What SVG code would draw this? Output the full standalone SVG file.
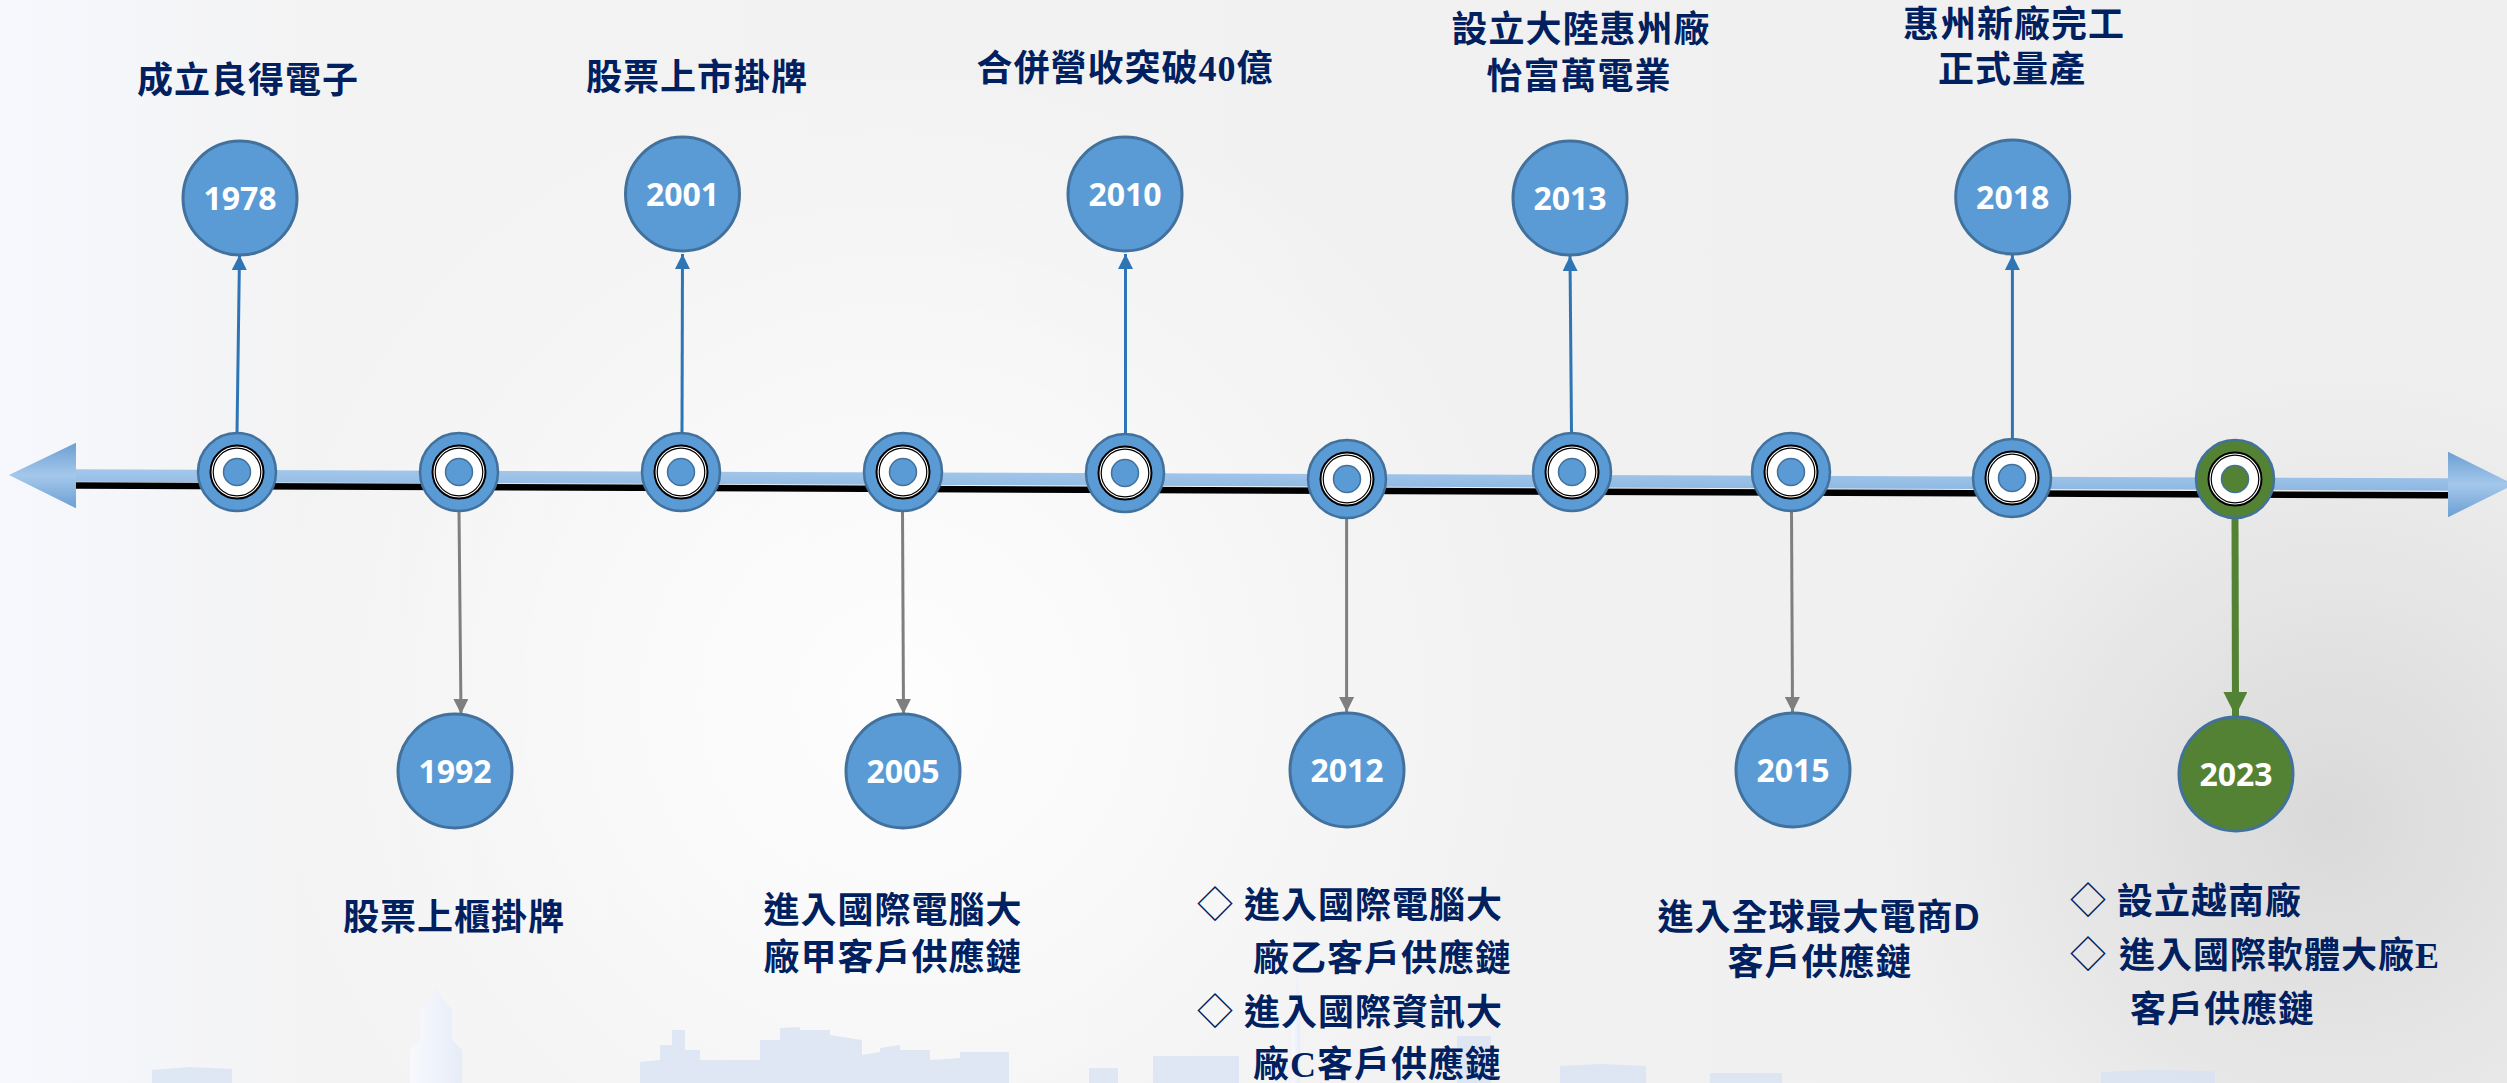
<svg xmlns="http://www.w3.org/2000/svg" xmlns:xlink="http://www.w3.org/1999/xlink" width="2507" height="1083" viewBox="0 0 2507 1083">
<style>
.yc{fill:#5B9BD5;stroke:#41719C;stroke-width:3}
.yg{fill:#548235;stroke:#41719C;stroke-width:3}
.yt{font-family:"Open Sans","Liberation Sans",sans-serif;font-weight:700;font-size:32px;fill:#fff;text-anchor:middle}
.lb{font-family:"Liberation Serif","Noto Sans CJK TC",serif;font-weight:700;font-size:36px;fill:#002060;letter-spacing:1px}
.mid{text-anchor:middle}
.dm{font-family:"Noto Sans CJK TC",sans-serif;font-weight:400}
.up{stroke:#2E75B6;stroke-width:3;fill:none;marker-end:url(#aB)}
.dn{stroke:#7F7F7F;stroke-width:3;fill:none;marker-end:url(#aG)}
.dg{stroke:#548235;stroke-width:7;fill:none;marker-end:url(#aV)}
.sk{fill:#D7E1F3;opacity:.75}
</style>
<defs>
<linearGradient id="bgL" x1="0" y1="0" x2="1" y2="0">
<stop offset="0" stop-color="#F6F8FD"/><stop offset="0.12" stop-color="#F3F3F4"/><stop offset="1" stop-color="#EFEFEF"/>
</linearGradient>
<radialGradient id="glow" cx="900" cy="700" r="650" gradientUnits="userSpaceOnUse">
<stop offset="0" stop-color="#FFFFFF" stop-opacity="0.9"/><stop offset="1" stop-color="#FFFFFF" stop-opacity="0"/>
</radialGradient>
<radialGradient id="shade" cx="2330" cy="820" r="450" gradientUnits="userSpaceOnUse">
<stop offset="0" stop-color="#D4D4D4" stop-opacity="0.8"/><stop offset="1" stop-color="#D4D4D4" stop-opacity="0"/>
</radialGradient>
<linearGradient id="tow" x1="0" y1="0" x2="1" y2="0">
<stop offset="0" stop-color="#F8F9FD"/><stop offset="1" stop-color="#E6ECF8"/>
</linearGradient>
<linearGradient id="bar" x1="0" y1="0" x2="0" y2="1">
<stop offset="0" stop-color="#A4C8EB"/><stop offset="1" stop-color="#8DB7E2"/>
</linearGradient>
<linearGradient id="head" x1="0" y1="0" x2="0" y2="1">
<stop offset="0" stop-color="#6C9FD3"/><stop offset="0.5" stop-color="#A4C8EB"/><stop offset="1" stop-color="#6C9FD3"/>
</linearGradient>
<marker id="aB" markerWidth="15" markerHeight="15" refX="15" refY="7.5" orient="auto" markerUnits="userSpaceOnUse"><path d="M0,0 L15,7.5 L0,15 z" fill="#2E75B6"/></marker>
<marker id="aG" markerWidth="15" markerHeight="15" refX="15" refY="7.5" orient="auto" markerUnits="userSpaceOnUse"><path d="M0,0 L15,7.5 L0,15 z" fill="#7F7F7F"/></marker>
<marker id="aV" markerWidth="24" markerHeight="24" refX="24" refY="12" orient="auto" markerUnits="userSpaceOnUse"><path d="M0,0 L24,12 L0,24 z" fill="#548235"/></marker>
<g id="tdot">
<circle r="39" fill="#5B9BD5" stroke="#41719C" stroke-width="2.5"/>
<circle r="26.5" fill="#fff" stroke="#000" stroke-width="2"/>
<circle r="23.8" fill="none" stroke="#000" stroke-width="1.2"/>
<circle r="13.5" fill="#5B9BD5" stroke="#41719C" stroke-width="1.5"/>
</g>
<g id="tdotg">
<circle r="39" fill="#548235" stroke="#41719C" stroke-width="2.5"/>
<circle r="26.5" fill="#fff" stroke="#000" stroke-width="2"/>
<circle r="23.8" fill="none" stroke="#000" stroke-width="1.2"/>
<circle r="13.5" fill="#548235" stroke="#41719C" stroke-width="1.5"/>
</g>
</defs>

<g id="background">
<rect width="2507" height="1083" fill="url(#bgL)"/>
<rect width="2507" height="1083" fill="url(#glow)"/>
<rect width="2507" height="1083" fill="url(#shade)"/>
<path class="sk" d="M152,1083 V1070 L190,1067 L232,1069 V1083 Z"/>
<path fill="url(#tow)" d="M410,1083 V1050 L420,1040 V1010 L432,995 L436,985 L440,995 L452,1010 V1040 L462,1050 V1083 Z"/>
<path class="sk" d="M640,1083 V1062 L660,1060 V1045 L672,1045 V1030 L685,1030 V1050 L700,1050 V1060 L760,1060 V1040 L780,1040 V1028 L800,1027 V1030 L830,1030 V1035 L862,1040 V1055 L880,1052 V1048 L900,1045 V1050 L930,1050 V1060 L960,1058 V1052 L1009,1052 V1083 Z"/>
<path class="sk" d="M1089,1083 V1068 L1118,1068 V1083 Z M1153,1083 V1056 L1239,1056 V1083 Z"/>
<path class="sk" d="M1457,1083 V1036 L1491,1036 V1083 Z M1560,1083 V1066 L1600,1064 L1646,1066 V1083 Z M1710,1083 V1073 L1782,1073 V1083 Z M2101,1083 V1072 L2150,1070 L2215,1071 V1083 Z"/>
<path fill="url(#tow)" d="M1292,1083 V1000 L1296,968 L1300,1000 V1083 Z"/>
</g>

<g id="timeline">
<line x1="76" y1="485.5" x2="2448" y2="495.3" stroke="#000" stroke-width="6.5"/>
<polygon points="76,469.3 2448,478.3 2448,490.7 76,481.7" fill="url(#bar)"/>
<polygon points="9,475 76,442.7 76,508.3" fill="url(#head)"/>
<polygon points="2448,451.7 2514,484.5 2448,517.3" fill="url(#head)"/>
</g>

<g id="connectors">
<path class="up" d="M237,433 L239.5,255"/>
<path class="up" d="M682,433 L682.5,254"/>
<path class="up" d="M1125.5,434 L1125.5,254"/>
<path class="up" d="M1571.5,433 L1570,256"/>
<path class="up" d="M2012.4,439 L2012.4,255"/>
<path class="dn" d="M459,511 L461,714"/>
<path class="dn" d="M902.5,511 L903.5,714"/>
<path class="dn" d="M1346.6,518 L1346.6,712"/>
<path class="dn" d="M1791.5,511 L1792.5,712"/>
<path class="dg" d="M2235,518 L2235.5,716"/>
</g>

<g id="timeline-dots">
<g id="dot-1978"><use href="#tdot" x="237" y="472"/></g>
<g id="dot-1992"><use href="#tdot" x="459" y="472"/></g>
<g id="dot-2001"><use href="#tdot" x="681" y="472"/></g>
<g id="dot-2005"><use href="#tdot" x="903" y="472"/></g>
<g id="dot-2010"><use href="#tdot" x="1125" y="473"/></g>
<g id="dot-2012"><use href="#tdot" x="1347" y="479"/></g>
<g id="dot-2013"><use href="#tdot" x="1572" y="472"/></g>
<g id="dot-2015"><use href="#tdot" x="1791" y="472"/></g>
<g id="dot-2018"><use href="#tdot" x="2012" y="478"/></g>
<g id="dot-2023"><use href="#tdotg" x="2235" y="479"/></g>
</g>

<g id="node-1978">
<circle class="yc" cx="240" cy="198" r="57"/>
<text class="yt" x="240" y="210">1978</text>
<text class="lb mid" x="248" y="93">成立良得電子</text>
</g>
<g id="node-2001">
<circle class="yc" cx="682.5" cy="194" r="57"/>
<text class="yt" x="682.5" y="206">2001</text>
<text class="lb mid" x="697" y="90">股票上市掛牌</text>
</g>
<g id="node-2010">
<circle class="yc" cx="1125" cy="194" r="57"/>
<text class="yt" x="1125" y="206">2010</text>
<text class="lb mid" x="1125" y="81">合併營收突破40億</text>
</g>
<g id="node-2013">
<circle class="yc" cx="1570" cy="198" r="57"/>
<text class="yt" x="1570" y="210">2013</text>
<text class="lb mid" x="1581" y="42">設立大陸惠州廠</text>
<text class="lb mid" x="1579" y="89">怡富萬電業</text>
</g>
<g id="node-2018">
<circle class="yc" cx="2012.7" cy="197" r="57"/>
<text class="yt" x="2012.7" y="209">2018</text>
<text class="lb mid" x="2014" y="37">惠州新廠完工</text>
<text class="lb mid" x="2012" y="82">正式量產</text>
</g>
<g id="node-1992">
<circle class="yc" cx="455" cy="771" r="57"/>
<text class="yt" x="455" y="783">1992</text>
<text class="lb mid" x="454" y="930">股票上櫃掛牌</text>
</g>
<g id="node-2005">
<circle class="yc" cx="903" cy="771" r="57"/>
<text class="yt" x="903" y="783">2005</text>
<text class="lb mid" x="893" y="923">進入國際電腦大</text>
<text class="lb mid" x="893" y="970">廠甲客戶供應鏈</text>
</g>
<g id="node-2012">
<circle class="yc" cx="1347" cy="770" r="57"/>
<text class="yt" x="1347" y="782">2012</text>
<text class="lb" y="918"><tspan class="dm" x="1197">◇</tspan><tspan x="1244">進入國際電腦大</tspan></text>
<text class="lb" x="1253" y="971">廠乙客戶供應鏈</text>
<text class="lb" y="1025"><tspan class="dm" x="1197">◇</tspan><tspan x="1244">進入國際資訊大</tspan></text>
<text class="lb" x="1253" y="1077">廠C客戶供應鏈</text>
</g>
<g id="node-2015">
<circle class="yc" cx="1793" cy="770" r="57"/>
<text class="yt" x="1793" y="782">2015</text>
<text class="lb mid" x="1819" y="930">進入全球最大電商<tspan font-family="Liberation Sans">D</tspan></text>
<text class="lb mid" x="1820" y="975">客戶供應鏈</text>
</g>
<g id="node-2023">
<circle class="yg" cx="2236" cy="774" r="57"/>
<text class="yt" x="2236" y="786">2023</text>
<text class="lb" y="914"><tspan class="dm" x="2070">◇</tspan><tspan x="2117">設立越南廠</tspan></text>
<text class="lb" y="968"><tspan class="dm" x="2070">◇</tspan><tspan x="2119">進入國際軟體大廠E</tspan></text>
<text class="lb" x="2130" y="1022">客戶供應鏈</text>
</g>
</svg>
